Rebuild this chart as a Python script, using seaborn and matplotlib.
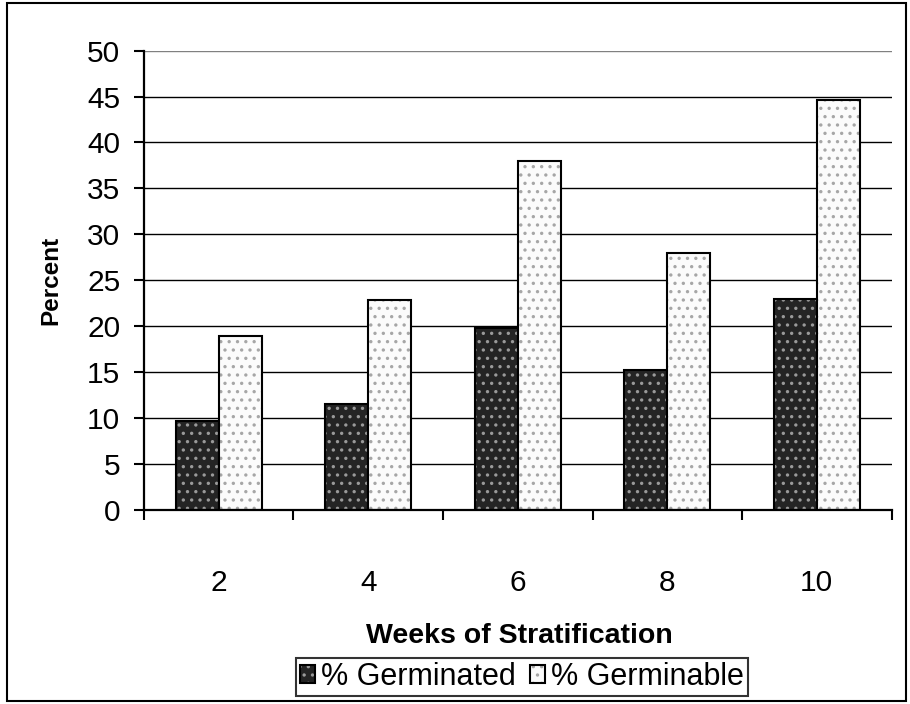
import matplotlib
matplotlib.use("Agg")
import matplotlib.pyplot as plt
from matplotlib.colors import to_rgba
from matplotlib.patches import Rectangle
import seaborn as sns
import pandas as pd

# Weeks of stratification and germination results
weeks = ["2", "4", "6", "8", "10"]
germinated = [9.7, 11.5, 19.8, 15.2, 23.0]
germinable = [18.9, 22.8, 38.0, 28.0, 44.6]
series_names = ["% Germinated", "% Germinable"]
y_ticks = [0, 5, 10, 15, 20, 25, 30, 35, 40, 45, 50]

df = pd.DataFrame({
    "Week": weeks * 2,
    "Percent": germinated + germinable,
    "Series": [series_names[0]] * len(weeks) + [series_names[1]] * len(weeks),
})

sns.set_theme(style="white")
plt.rcParams["font.family"] = ["Liberation Sans", "DejaVu Sans"]
plt.rcParams["hatch.linewidth"] = 1.2

fig = plt.figure(figsize=(9.10, 7.04), dpi=100)
ax = fig.add_axes([0.1582, 0.276, 0.8215, 0.652])

fills = {series_names[0]: "#242424", series_names[1]: "#fbfbfb"}
dots = {series_names[0]: "#9a9a9a", series_names[1]: "#a6a6a6"}

sns.barplot(data=df, x="Week", y="Percent", hue="Series", order=weeks,
            hue_order=series_names, palette=fills, width=0.575,
            saturation=1, ax=ax, legend=False, zorder=3)

# dotted fill pattern with black outlines
for cont, name in zip(ax.containers, series_names):
    for p in cont.patches:
        p.set_edgecolor("black")
        p.set_linewidth(1.5)
        p.set_hatch("..")
        p._hatch_color = to_rgba(dots[name])

ax.set_ylim(0, 50)
ax.set_xlim(-0.5, len(weeks) - 0.5)
ax.set_yticks(y_ticks)
ax.set_yticklabels([str(v) for v in y_ticks], fontsize=21.5)

# horizontal gridlines: black, with the top one in grey
for v in y_ticks[1:]:
    ax.axhline(v, color="#808080" if v == 50 else "black", lw=1.0, zorder=1)

for s in ["top", "right"]:
    ax.spines[s].set_visible(False)
for s in ["left", "bottom"]:
    ax.spines[s].set_color("black")
    ax.spines[s].set_linewidth(1.6)
    ax.spines[s].set_zorder(4)

ax.tick_params(axis="y", which="major", direction="out", length=7, width=1.5,
               color="black", pad=10, left=True, labelcolor="black")
ax.set_xticks(range(len(weeks)))
ax.set_xticklabels(weeks, fontsize=21.5)
ax.set_xticks([i - 0.5 for i in range(len(weeks) + 1)], minor=True)
ax.tick_params(axis="x", which="major", length=0, pad=43, labelcolor="black")
ax.tick_params(axis="x", which="minor", direction="out", length=7, width=1.5,
               color="black", bottom=True)

ax.set_xlabel("")
ax.set_ylabel("")
fig.text(0.571, 0.0966, "Weeks of Stratification", ha="center", va="center",
         fontsize=20.5, fontweight="bold", color="black")
fig.text(0.056, 0.602, "Percent", rotation=90, ha="center", va="center",
         fontsize=17.5, fontweight="bold", color="black")

handles = [cont.patches[0] for cont in ax.containers]
leg = fig.legend(handles, series_names, loc="center",
                 bbox_to_anchor=(0.5736, 0.0384), ncol=2, fontsize=22,
                 frameon=True, fancybox=False, edgecolor="black",
                 handlelength=0.5, handleheight=0.5, handletextpad=0.2,
                 columnspacing=0.45, borderpad=0.12, borderaxespad=0)
leg.get_frame().set_linewidth(1.5)
for t in leg.get_texts():
    t.set_color("black")

# outer frame around the whole figure
fig.patches.append(Rectangle((0.008, 0.004), 0.988, 0.992, transform=fig.transFigure,
                             fill=False, edgecolor="black", linewidth=1.5))

fig.savefig("out.png", dpi=100, facecolor="white")
